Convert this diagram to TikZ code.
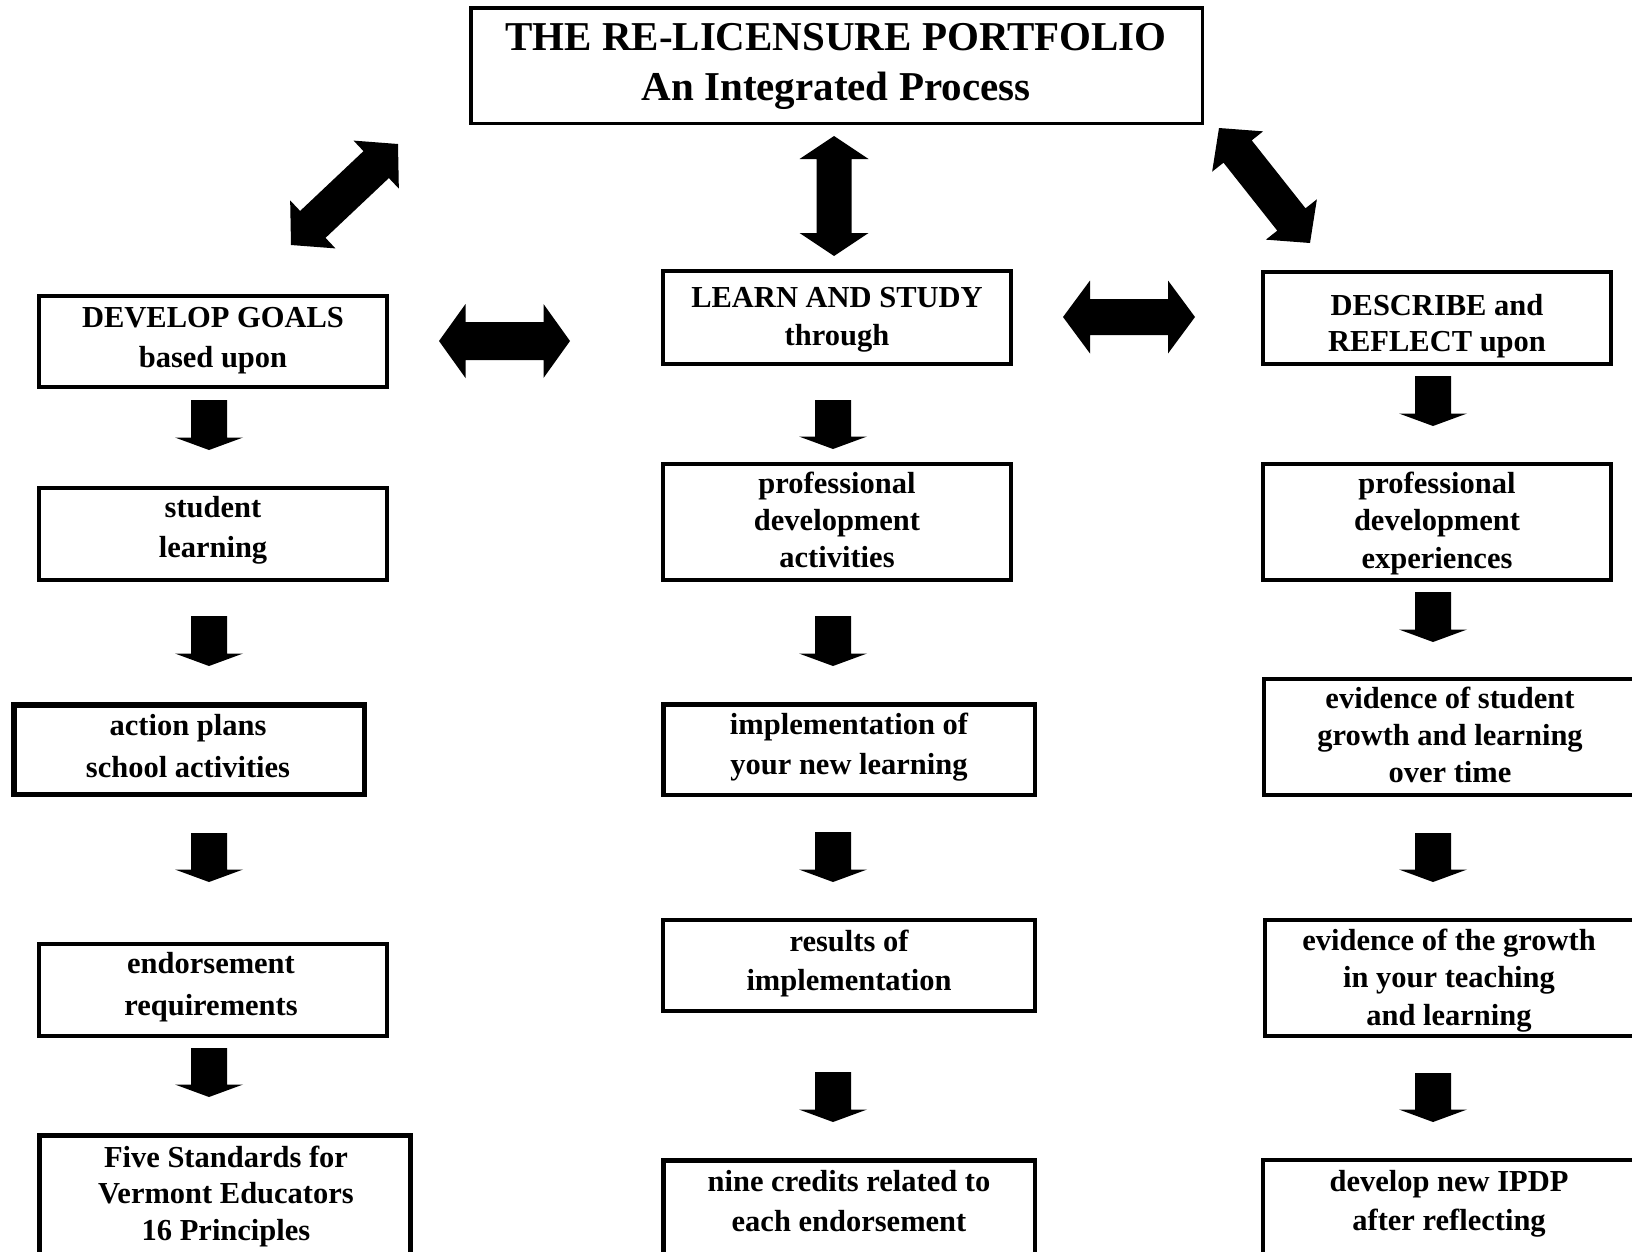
\documentclass[tikz,border=0pt]{standalone}
\usepackage{fontspec}
\setmainfont{Liberation Serif}
\usetikzlibrary{calc}
\newcommand\ml[1]{\begin{tabular}[t]{@{}c@{}}#1\end{tabular}}
% box node from outer edges: name, x1, y1, x2, y2, line width
\newcommand\bx[6]{\node[boxst, line width=#6pt, minimum width={(#4-#2-#6)*1pt}, minimum height={(#5-#3-#6)*1pt}] (#1) at ({(#2+#4)/2},{(#3+#5)/2}) {};}
% single block arrow: start, tip, shaft half width, head half width, head length
\newcommand\sglarrow[5]{%
  \coordinate (tmpH) at ($(#2)!#5pt!(#1)$);
  \fill[blk] (#2) -- ($(tmpH)!#4pt!90:(#2)$) -- ($(tmpH)!#3pt!90:(#2)$) -- ($(#1)!#3pt!90:(#2)$)
    -- ($(#1)!#3pt!-90:(#2)$) -- ($(tmpH)!#3pt!-90:(#2)$) -- ($(tmpH)!#4pt!-90:(#2)$) -- cycle;}
% double block arrow: tip A, tip B, shaft half width, head half width, head length
\newcommand\dblarrow[5]{%
  \coordinate (tmpHA) at ($(#1)!#5pt!(#2)$);
  \coordinate (tmpHB) at ($(#2)!#5pt!(#1)$);
  \fill[blk] (#1) -- ($(tmpHA)!#4pt!90:(#2)$) -- ($(tmpHA)!#3pt!90:(#2)$) -- ($(tmpHB)!#3pt!-90:(#1)$)
    -- ($(tmpHB)!#4pt!-90:(#1)$) -- (#2) -- ($(tmpHB)!#4pt!90:(#1)$) -- ($(tmpHB)!#3pt!90:(#1)$)
    -- ($(tmpHA)!#3pt!-90:(#2)$) -- ($(tmpHA)!#4pt!-90:(#2)$) -- cycle;}
\begin{document}
\begin{tikzpicture}[x=1pt,y=-1pt,
  boxst/.style={draw=black, rectangle, inner sep=0pt, outer sep=0pt},
  txt/.style={inner sep=0pt, outer sep=0pt, anchor=base, font=\bfseries\fontsize{30.5}{#1}\selectfont},
  txt/.default=40,
  blk/.style={fill=black}]
\fill[white] (0,0) rectangle (1632,1251);
\useasboundingbox (0,0) rectangle (1632,1251);

% boxes
\bx{title}{469}{6}{1204}{125}{3.5}
\bx{L1}{37}{294}{389}{389}{4}
\bx{L2}{37}{486}{389}{582}{4}
\bx{L3}{11}{702}{367}{797}{5.5}
\bx{L4}{37}{942}{389}{1038}{4}
\bx{L5}{37}{1133}{413}{1265}{5}
\bx{M1}{661}{269}{1013}{366}{4}
\bx{M2}{661}{462}{1013}{582}{4}
\bx{M3}{661}{702}{1037}{797}{4.5}
\bx{M4}{661}{918}{1037}{1013}{4}
\bx{M5}{661}{1158}{1037}{1265}{4.5}
\bx{R1}{1261}{270}{1613}{366}{4}
\bx{R2}{1261}{462}{1613}{582}{4}
\bx{R3}{1262}{677}{1645}{797}{4}
\bx{R4}{1263}{918}{1645}{1038}{4}
\bx{R5}{1261}{1158}{1645}{1265}{4}

% texts
\node[inner sep=0pt, anchor=base, font=\bfseries\fontsize{41}{50}\selectfont] (titlet) at (836,50) {\ml{THE RE-LICENSURE PORTFOLIO\\An Integrated Process}};
\node[txt] (L1t) at (213,327) {\ml{DEVELOP GOALS\\based upon}};
\node[txt] (L2t) at (213,517) {\ml{student\\learning}};
\node[txt=42] (L3t) at (188,735) {\ml{action plans\\school activities}};
\node[txt=42] (L4t) at (211,973) {\ml{endorsement\\requirements}};
\node[txt=36.5] (L5t) at (226,1167) {\ml{Five Standards for\\Vermont Educators\\16 Principles}};
\node[txt=38] (M1t) at (837,307) {\ml{LEARN AND STUDY\\through}};
\node[txt=37] (M2t) at (837,493) {\ml{professional\\development\\activities}};
\node[txt] (M3t) at (849,734) {\ml{implementation of\\your new learning}};
\node[txt=39] (M4t) at (849,951) {\ml{results of\\implementation}};
\node[txt] (M5t) at (849,1191) {\ml{nine credits related to\\each endorsement}};
\node[txt=36] (R1t) at (1437,315) {\ml{DESCRIBE and\\REFLECT upon}};
\node[txt=37.5] (R2t) at (1437,493) {\ml{professional\\development\\experiences}};
\node[txt=37] (R3t) at (1450,708) {\ml{evidence of student\\growth and learning\\over time}};
\node[txt=37.5] (R4t) at (1449,950) {\ml{evidence of the growth\\in your teaching\\and learning}};
\node[txt=39] (R5t) at (1449,1191) {\ml{develop new IPDP\\after reflecting}};

% double arrows
\coordinate (d1a) at (291,245); \coordinate (d1b) at (398,144);
\coordinate (d2a) at (834,136); \coordinate (d2b) at (834,256);
\coordinate (d3a) at (1219,128); \coordinate (d3b) at (1310,243);
\coordinate (d4a) at (439,341); \coordinate (d4b) at (570,341);
\coordinate (d5a) at (1063,317); \coordinate (d5b) at (1195,317);
\dblarrow{d1a}{d1b}{18.5}{33}{30}
\dblarrow{d2a}{d2b}{17.5}{34.5}{23}
\dblarrow{d3a}{d3b}{18}{32.5}{30}
\dblarrow{d4a}{d4b}{19}{37}{26.5}
\dblarrow{d5a}{d5b}{18}{36.5}{27}

% down arrows
\coordinate (aL1s) at (209,400);  \coordinate (aL1e) at (209,450);
\coordinate (aL2s) at (209,616);  \coordinate (aL2e) at (209,666);
\coordinate (aL3s) at (209,833);  \coordinate (aL3e) at (209,882);
\coordinate (aL4s) at (209,1048); \coordinate (aL4e) at (209,1097);
\coordinate (aM1s) at (833,400);  \coordinate (aM1e) at (833,449);
\coordinate (aM2s) at (833,616);  \coordinate (aM2e) at (833,666);
\coordinate (aM3s) at (833,832);  \coordinate (aM3e) at (833,882);
\coordinate (aM4s) at (833,1072); \coordinate (aM4e) at (833,1122);
\coordinate (aR1s) at (1433,376); \coordinate (aR1e) at (1433,426);
\coordinate (aR2s) at (1433,592); \coordinate (aR2e) at (1433,642);
\coordinate (aR3s) at (1433,833); \coordinate (aR3e) at (1433,882);
\coordinate (aR4s) at (1433,1073);\coordinate (aR4e) at (1433,1122);
\foreach \a in {L1,L2,L3,L4,M1,M2,M3,M4,R1,R2,R3,R4}{\sglarrow{a\a s}{a\a e}{18}{34}{12.5}}
\end{tikzpicture}
\end{document}
